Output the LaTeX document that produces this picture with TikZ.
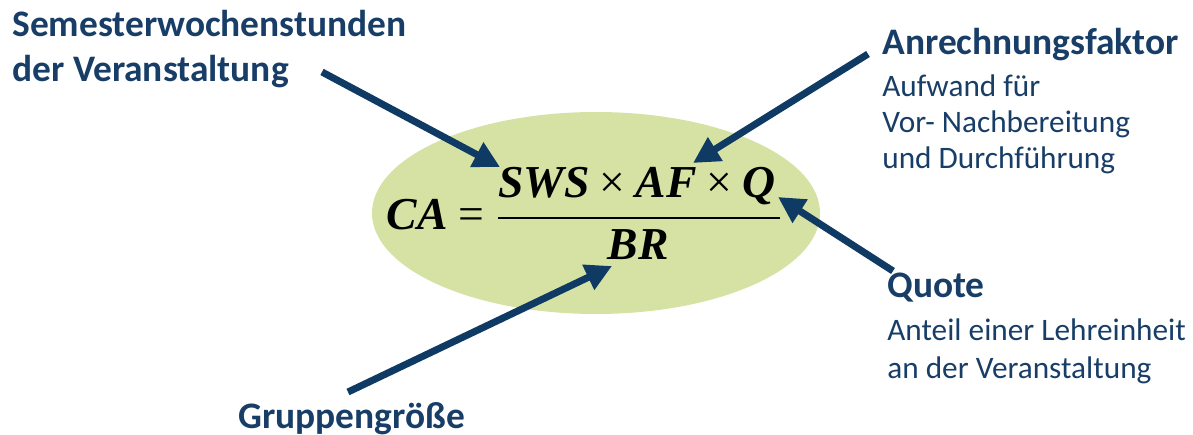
\documentclass[tikz,border=0pt]{standalone}
\usepackage{fontspec}
\setmainfont{Carlito}
\newfontfamily\formfont{Liberation Serif}
\usetikzlibrary{arrows.meta}
\definecolor{navy}{RGB}{14,58,100}
\definecolor{txtblue}{RGB}{24,62,104}
\definecolor{ellgreen}{RGB}{214,226,164}
\newcommand{\tms}{\hspace{0.22em}{\mdseries ×}\hspace{0.22em}}
\tikzset{
  head/.style={font=\fontsize{21.3pt}{25pt}\selectfont\bfseries, text=txtblue, anchor=base west, inner sep=0pt, align=left},
  sub/.style={font=\fontsize{17.8pt}{21pt}\selectfont, text=txtblue, anchor=base west, inner sep=0pt, align=left},
  form/.style={font=\fontsize{26pt}{30pt}\selectfont\formfont\bfseries, text=black, inner sep=0pt},
  ptr/.style={draw=navy, line width=4pt, -{Triangle[length=15pt,width=15pt]}},
}
\begin{document}
\begin{tikzpicture}[x=0.02cm,y=-0.02cm]
\useasboundingbox (0,0) rectangle (1193,435);
\fill[ellgreen] (596,213) ellipse [x radius=224, y radius=101];
\node[form, anchor=base east] (lhs) at (485,230) {\textit{CA}\hspace{0.25em}{\mdseries =}};
\node[form, anchor=base] (num) at (637,198) {\textit{SWS}\tms\textit{AF}\tms\textit{Q}};
\node[form, anchor=base] (den) at (638,260) {\textit{BR}};
\coordinate (barL) at (498,218);
\coordinate (barR) at (780,218);
\draw[line width=1.2pt] (barL) -- (barR);

\node[head] (sws) at (12,37) {Semesterwochenstunden};
\node[head] (sws2) at (12,82) {der Veranstaltung};
\node[head] (af) at (882,55) {Anrechnungsfaktor};
\node[sub] (af1) at (882,97) {Aufwand für};
\node[sub] (af2) at (882,133) {Vor- Nachbereitung};
\node[sub] (af3) at (882,169) {und Durchführung};
\node[head] (q) at (887,298) {Quote};
\node[sub] (q1) at (887,340) {Anteil einer Lehreinheit};
\node[sub] (q2) at (887,378) {an der Veranstaltung};
\node[head] (gr) at (238,428) {Gruppengröße};

\coordinate (s1) at (322,72);  \coordinate (t1) at (500,167);
\coordinate (s2) at (868,54);  \coordinate (t2) at (693,163);
\coordinate (s3) at (893,271); \coordinate (t3) at (778,197);
\coordinate (s4) at (348,392); \coordinate (t4) at (612,266);
\draw[ptr] (s1) -- (t1);
\draw[ptr] (s2) -- (t2);
\draw[ptr] (s3) -- (t3);
\draw[ptr] (s4) -- (t4);
\end{tikzpicture}
\end{document}
